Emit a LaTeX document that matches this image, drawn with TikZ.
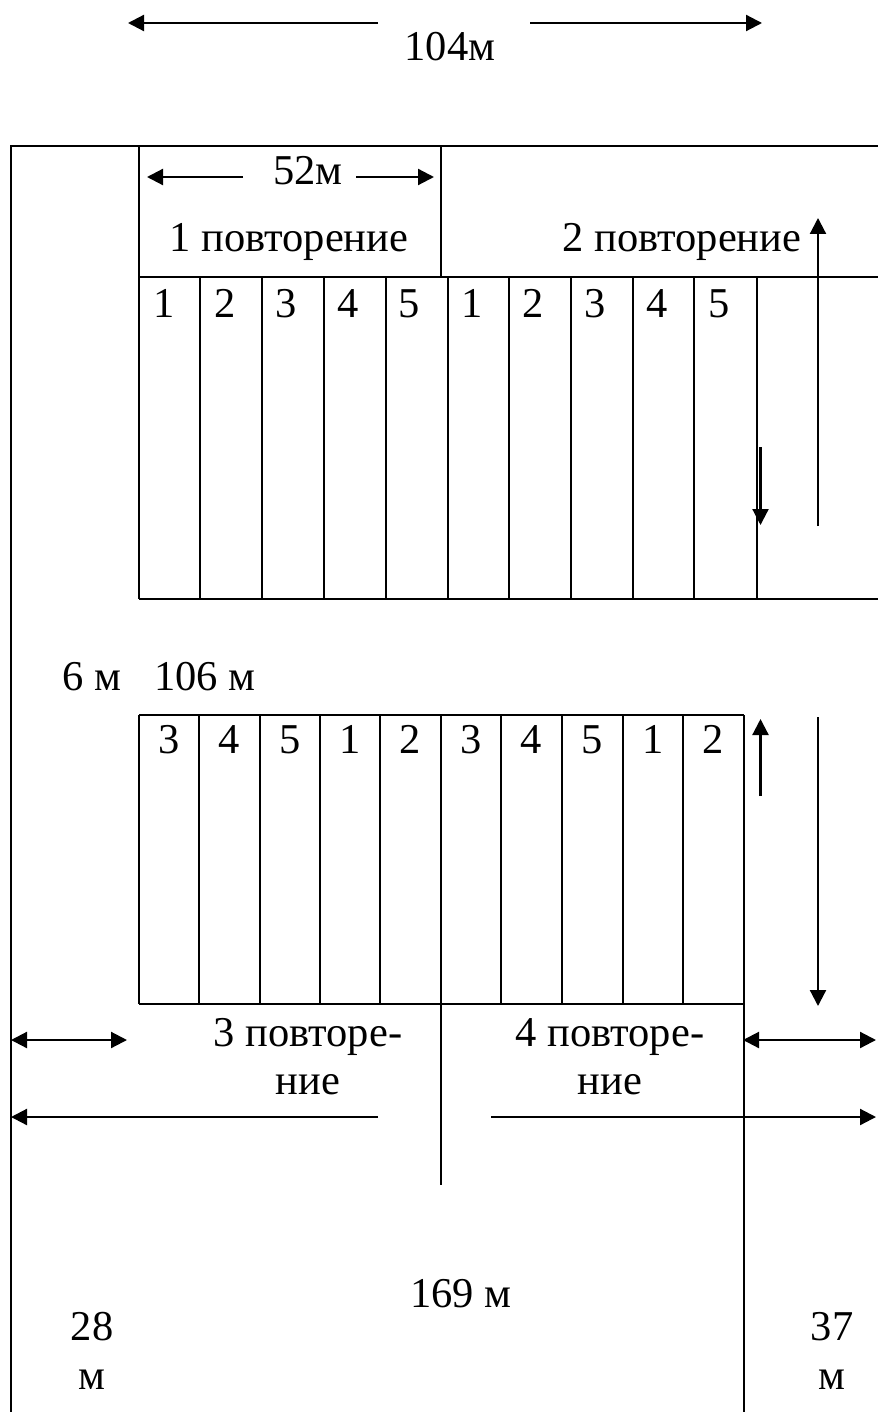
\documentclass[tikz,border=0pt]{standalone}
\usepackage{fontspec}
\setmainfont{Liberation Serif}
\usetikzlibrary{arrows.meta}
\tikzset{
  wall/.style={line width=1pt,black},
  dim/.style={line width=1.1pt,black,-{Triangle[length=8pt,width=8pt]}},
  dimboth/.style={line width=1.1pt,black,{Triangle[length=8pt,width=8pt]}-{Triangle[length=8pt,width=8pt]}},
  lab/.style={inner sep=0pt,anchor=base,font=\fontsize{21.25}{25}\selectfont},
}
\begin{document}
\begin{tikzpicture}[x=0.5pt,y=-0.5pt]
\useasboundingbox (0,0) rectangle (878,1412);
\clip (0,0) rectangle (878,1412);
% outer and top block
\draw[wall] (11,1412) -- (11,146) -- (878,146);
\draw[wall] (139,146) -- (139,599);
\draw[wall] (441,146) -- (441,277);
\draw[wall] (139,277) -- (878,277);
\draw[wall] (139,599) -- (878,599);
\foreach \x in {200,262,324,386,448,509,571,633,694,757}
  \draw[wall] (\x,277) -- (\x,599);
% lower block
\draw[wall] (139,715) -- (744,715);
\draw[wall] (139,1004) -- (744,1004);
\foreach \x in {139,199,260,320,380,441,501,562,623,683,744}
  \draw[wall] (\x,715) -- (\x,1004);
\draw[wall] (441,1004) -- (441,1185);
\draw[wall] (744,1004) -- (744,1412);
% dimension arrows
\draw[dim] (378,23) -- (128,23);
\draw[dim] (530,23) -- (762,23);
\draw[dim] (243,177) -- (147,177);
\draw[dim] (356,177) -- (434,177);
\draw[dim] (818,526) -- (818,218);
\draw[dim] (760.5,447) -- (760.5,525);
\draw[dim] (760.5,796) -- (760.5,719);
\draw[dim] (818,717) -- (818,1006);
\draw[dimboth] (11,1040) -- (127,1040);
\draw[dimboth] (743,1040) -- (876,1040);
\draw[dim] (378,1117) -- (11,1117);
\draw[dim] (491,1117) -- (876,1117);
% labels
\node[lab] (t104) at (450,61) {104м};
\node[lab] (t52) at (308,185) {52м};
\node[lab] (r1) at (289,251) {1 повторение};
\node[lab] (r2) at (682,251) {2 повторение};
\foreach \x/\d [count=\i] in {164/1,225/2,286/3,348/4,409/5,472/1,533/2,595/3,657/4,719/5}
  \node[lab] (a\i) at (\x,317) {\d};
\node[lab] (t6) at (92,690) {6 м};
\node[lab] (t106) at (205,690) {106 м};
\foreach \x/\d [count=\i] in {169/3,229/4,290/5,350/1,410/2,471/3,531/4,592/5,653/1,713/2}
  \node[lab] (b\i) at (\x,753) {\d};
\node[lab] (r3a) at (308,1046) {3 повторе-};
\node[lab] (r3b) at (308,1094) {ние};
\node[lab] (r4a) at (610,1046) {4 повторе-};
\node[lab] (r4b) at (610,1094) {ние};
\node[lab] (t169) at (461,1307) {169 м};
\node[lab] (t28) at (92,1340) {28};
\node[lab] (t28m) at (92,1389) {м};
\node[lab] (t37) at (832,1340) {37};
\node[lab] (t37m) at (832,1389) {м};
\end{tikzpicture}
\end{document}
